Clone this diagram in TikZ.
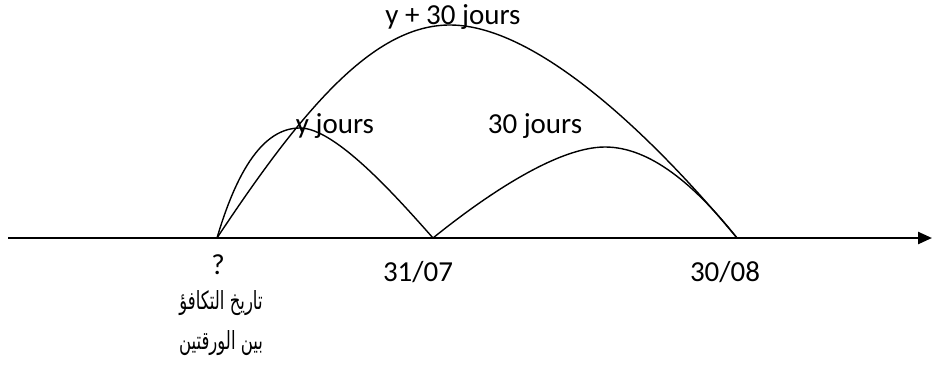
\documentclass[tikz,border=0pt]{standalone}
\usepackage{fontspec}
\usepackage{tikz}
\usetikzlibrary{arrows.meta,positioning}
\setmainfont{Carlito}
\newfontfamily\arabicfont[Script=Arabic]{DejaVu Sans}
\TeXXeTstate=1

\begin{document}
\begin{tikzpicture}[
    x=1pt,y=-1pt,>={Triangle[length=14pt,width=12pt]},
    axisline/.style={line width=2.4pt},
    arcline/.style={line width=1.4pt},
    lbl/.style={inner sep=1pt,font=\fontsize{29}{32}\selectfont},
    arlbl/.style={inner sep=1pt,xscale=0.66,transform shape,font=\arabicfont\fontsize{25}{28}\selectfont}]
  \useasboundingbox (0,0) rectangle (932,369);
  \coordinate (ax0) at (8,238);
  \coordinate (ax1) at (932,238);
  \coordinate (A) at (217,238);
  \coordinate (B) at (433,238);
  \coordinate (C) at (737,238);
  \coordinate (pA) at (300,128);
  \coordinate (pB) at (605,147);
  \coordinate (pT) at (450,25);
  \draw[axisline,->] (ax0) -- (ax1);
  % arcs
  \draw[arcline] (A) .. controls (240,160) and (268,128) .. (pA)
    .. controls (335,128) and (395,195) .. (B);
  \draw[arcline] (B) .. controls (480,200) and (555,147) .. (pB)
    .. controls (650,147) and (695,185) .. (C);
  \draw[arcline] (A) .. controls (305,105) and (375,25) .. (pT)
    .. controls (540,25) and (660,145) .. (C);
  % labels
  \node[lbl] (ltot) at (453,17) {y + 30 jours};
  \node[lbl] (ly) at (335,126) {y jours};
  \node[lbl] (l30) at (535,126) {30 jours};
  \node[lbl] (q) at (218,265) {?};
  \node[lbl] (d1) at (418,272) {31/07};
  \node[lbl] (d2) at (725,272) {30/08};
  \node[arlbl] (ar1) at (221,303) {\beginR تاريخ التكافؤ\endR};
  \node[arlbl] (ar2) at (221,343) {\beginR بين الورقتين\endR};
\end{tikzpicture}
\end{document}
